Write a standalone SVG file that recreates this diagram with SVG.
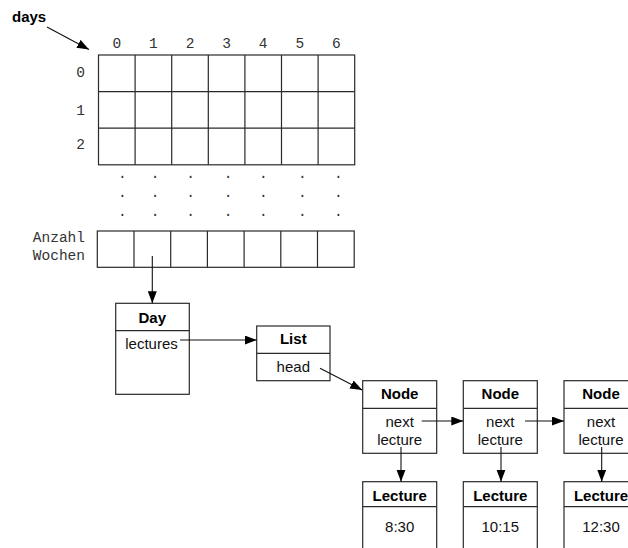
<svg xmlns="http://www.w3.org/2000/svg" width="628" height="548" viewBox="0 0 628 548">
  <style>
    .box { fill: #ffffff; stroke: #2a2a2a; stroke-width: 1.2; }
    .ln { fill: none; stroke: #2a2a2a; stroke-width: 1.2; }
    .conn { fill: none; stroke: #111; stroke-width: 1.1; }
    .mono { font-family: "Liberation Mono", "Courier New", monospace; font-size: 14.5px; fill: #333; }
    .b { font-family: "Liberation Sans", Arial, Helvetica, sans-serif; font-size: 15px; font-weight: bold; fill: #000; text-anchor: middle; }
    .r { font-family: "Liberation Sans", Arial, Helvetica, sans-serif; font-size: 15px; fill: #111; text-anchor: middle; }
    .mid { text-anchor: middle; }
  </style>
  <defs>
    <marker id="arrow" markerUnits="userSpaceOnUse" markerWidth="13" markerHeight="10" refX="12" refY="4.5" orient="auto">
      <path d="M0,0 L12,4.5 L0,9 z" fill="#000"/>
    </marker>
  </defs>
  <rect width="628" height="548" fill="#ffffff"/>

  <g id="days-label">
    <text x="12" y="22" font-family="Liberation Sans, Arial, sans-serif" font-size="15" font-weight="bold" fill="#000">days</text>
  </g>

  <g id="days-array">
    <g class="mono mid">
      <text x="116.8" y="47.5">0</text>
      <text x="153.4" y="47.5">1</text>
      <text x="190" y="47.5">2</text>
      <text x="226.6" y="47.5">3</text>
      <text x="263.2" y="47.5">4</text>
      <text x="299.8" y="47.5">5</text>
      <text x="336.4" y="47.5">6</text>
      <text x="80.5" y="77">0</text>
      <text x="80.5" y="115">1</text>
      <text x="80.5" y="149">2</text>
    </g>
    <rect class="box" x="98.5" y="55" width="256.2" height="109.8"/>
    <path class="ln" d="M135.1,55V164.8 M171.7,55V164.8 M208.3,55V164.8 M244.9,55V164.8 M281.5,55V164.8 M318.1,55V164.8 M98.5,91.6H354.7 M98.5,128.2H354.7"/>
    <g class="mono mid">
      <text x="122.3" y="178">.</text><text x="155" y="178">.</text><text x="190.7" y="178">.</text><text x="228" y="178">.</text><text x="263.3" y="178">.</text><text x="302.3" y="178">.</text><text x="338.3" y="178">.</text>
      <text x="122.3" y="197">.</text><text x="155" y="197">.</text><text x="190.7" y="197">.</text><text x="228" y="197">.</text><text x="263.3" y="197">.</text><text x="302.3" y="197">.</text><text x="338.3" y="197">.</text>
      <text x="122.3" y="215.5">.</text><text x="155" y="215.5">.</text><text x="190.7" y="215.5">.</text><text x="228" y="215.5">.</text><text x="263.3" y="215.5">.</text><text x="302.3" y="215.5">.</text><text x="338.3" y="215.5">.</text>
    </g>
    <text class="mono" x="85" y="241.5" text-anchor="end">Anzahl</text>
    <text class="mono" x="85" y="260" text-anchor="end">Wochen</text>
    <rect class="box" x="97.3" y="231" width="256.9" height="36.3"/>
    <path class="ln" d="M134,231V267.3 M170.7,231V267.3 M207.4,231V267.3 M244.1,231V267.3 M280.8,231V267.3 M317.5,231V267.3"/>
  </g>

  <g id="day">
    <rect class="box" x="115.7" y="303.3" width="73.6" height="91"/>
    <path class="ln" d="M115.7,330.7H189.3"/>
    <text class="b" x="152.3" y="323">Day</text>
    <text class="r" x="151.5" y="348.5">lectures</text>
  </g>

  <g id="list">
    <rect class="box" x="256.7" y="326" width="73.3" height="54.7"/>
    <path class="ln" d="M256.7,353.3H330"/>
    <text class="b" x="293.3" y="344">List</text>
    <text class="r" x="293.3" y="372">head</text>
  </g>

  <g id="node1">
    <rect class="box" x="362.7" y="380.7" width="74" height="72.6"/>
    <path class="ln" d="M362.7,408.3H436.7"/>
    <text class="b" x="399.7" y="399">Node</text>
    <text class="r" x="399.7" y="427">next</text>
    <text class="r" x="399.7" y="445">lecture</text>
  </g>
  <g id="node2">
    <rect class="box" x="463.3" y="380.7" width="74" height="72.6"/>
    <path class="ln" d="M463.3,408.3H537.3"/>
    <text class="b" x="500.3" y="399">Node</text>
    <text class="r" x="500.3" y="427">next</text>
    <text class="r" x="500.3" y="445">lecture</text>
  </g>
  <g id="node3">
    <rect class="box" x="564" y="380.7" width="74" height="72.6"/>
    <path class="ln" d="M564,408.3H638"/>
    <text class="b" x="601" y="399">Node</text>
    <text class="r" x="601" y="427">next</text>
    <text class="r" x="601" y="445">lecture</text>
  </g>

  <g id="lecture1">
    <rect class="box" x="362.7" y="481.7" width="74" height="90"/>
    <path class="ln" d="M362.7,506.7H436.7"/>
    <text class="b" x="399.7" y="500.5">Lecture</text>
    <text class="r" x="399.7" y="532">8:30</text>
  </g>
  <g id="lecture2">
    <rect class="box" x="463.3" y="481.7" width="74" height="90"/>
    <path class="ln" d="M463.3,506.7H537.3"/>
    <text class="b" x="500.3" y="500.5">Lecture</text>
    <text class="r" x="500.3" y="532">10:15</text>
  </g>
  <g id="lecture3">
    <rect class="box" x="564" y="481.7" width="74" height="90"/>
    <path class="ln" d="M564,506.7H638"/>
    <text class="b" x="601" y="500.5">Lecture</text>
    <text class="r" x="601" y="532">12:30</text>
  </g>

  <g id="connectors">
    <line class="conn" x1="47" y1="27" x2="89" y2="49.5" marker-end="url(#arrow)"/>
    <line class="conn" x1="152.3" y1="256" x2="152.3" y2="303.3" marker-end="url(#arrow)"/>
    <line class="conn" x1="180" y1="340" x2="256.7" y2="340" marker-end="url(#arrow)"/>
    <line class="conn" x1="320" y1="368.3" x2="362.2" y2="390" marker-end="url(#arrow)"/>
    <line class="conn" x1="421.7" y1="421" x2="463.3" y2="421" marker-end="url(#arrow)"/>
    <line class="conn" x1="525" y1="421" x2="564" y2="421" marker-end="url(#arrow)"/>
    <line class="conn" x1="401" y1="447" x2="401" y2="481.7" marker-end="url(#arrow)"/>
    <line class="conn" x1="501" y1="447" x2="501" y2="481.7" marker-end="url(#arrow)"/>
    <line class="conn" x1="601.7" y1="447" x2="601.7" y2="481.7" marker-end="url(#arrow)"/>
  </g>
</svg>
